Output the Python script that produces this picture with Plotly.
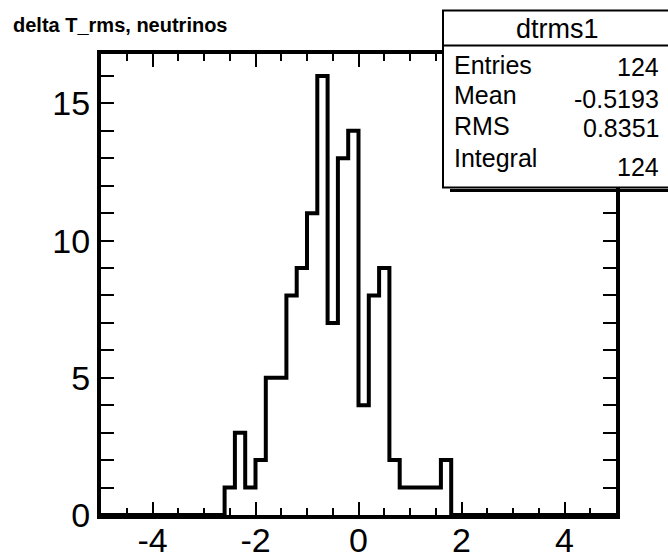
import plotly.graph_objects as go

# ---- histogram definition: 50 bins over [-5, 5] ----
hist_name = "dtrms1"
hist_title = "delta T_rms, neutrinos"
x_low, x_high, n_bins = -5.0, 5.0, 50

# bin contents, bin 0 starts at x = -5
counts = [
    0, 0, 0, 0, 0, 0, 0, 0, 0, 0, 0, 0,
    1, 3, 1, 2, 5, 5, 8, 9, 11, 16, 7, 13, 14,
    4, 8, 9, 2, 1, 1, 1, 1, 2,
    0, 0, 0, 0, 0, 0, 0, 0, 0, 0, 0, 0, 0, 0, 0, 0,
]

# statistics box
stat_labels = ["Entries", "Mean", "RMS", "Integral"]
stat_values = ["124", "-0.5193", "0.8351", "124"]

# axis ticks
x_tick_vals = [-4, -2, 0, 2, 4]
x_tick_text = ["-4", "-2", "0", "2", "4"]
x_major_step, x_minor_step = 2, 0.5
y_major_step, y_minor_step = 5, 1
y_max = 1.05 * max(counts)

bin_width = (x_high - x_low) / n_bins
edges = [x_low + i * bin_width for i in range(n_bins + 1)]
step_y = counts + [counts[-1]]

W, H = 668, 559
L, R, T, B = 101, 52, 54, 44
pw, ph = W - L - R, H - T - B


def px(x):
    return (x - L) / pw


def py(y):
    return (H - B - y) / ph


FONT = "Liberation Sans, Arial, Helvetica, sans-serif"
tick_font = dict(family=FONT, size=34, color="black")

fig = go.Figure()
fig.add_trace(go.Scatter(
    x=edges, y=step_y, mode="lines",
    line=dict(shape="hv", color="black", width=4),
    showlegend=False, hoverinfo="skip", cliponaxis=False,
))
# empty trace so the label axis gets its own subplot layer
fig.add_trace(go.Scatter(x=[], y=[], xaxis="x2", showlegend=False,
                         hoverinfo="skip"))

axis_common = dict(
    showline=True, linecolor="black", linewidth=4, mirror="allticks",
    ticks="inside", ticklen=13, tickwidth=2, tickcolor="black",
    showgrid=False, zeroline=False, automargin=False,
    tickfont=tick_font,
)

# frame axis: major + minor ticks, labels drawn by xaxis2 (plain hyphen minus)
fig.update_layout(xaxis=dict(
    range=[x_low, x_high], tickmode="linear", tick0=0, dtick=x_major_step,
    showticklabels=False,
    minor=dict(tickmode="linear", tick0=0, dtick=x_minor_step, ticks="inside",
               ticklen=7, tickwidth=2, tickcolor="black", showgrid=False),
    **axis_common,
))
fig.update_layout(xaxis2=dict(
    overlaying="x", anchor="y", side="bottom",
    range=[x_low, x_high], tickmode="array",
    tickvals=x_tick_vals, ticktext=x_tick_text,
    ticks="", showline=False, showgrid=False, zeroline=False,
    automargin=False, tickfont=tick_font, ticklabelstandoff=2,
))
fig.update_layout(yaxis=dict(
    range=[0, y_max], tickmode="linear", tick0=0, dtick=y_major_step,
    minor=dict(tickmode="linear", tick0=0, dtick=y_minor_step, ticks="inside",
               ticklen=7, tickwidth=2, tickcolor="black", showgrid=False),
    ticklabelstandoff=0,
    **axis_common,
))

# stats box with shadow
box_l, box_t, box_r, box_b = 443, 10.5, 672, 187.5
shapes = [
    dict(type="line", xref="paper", yref="paper",
         x0=px(box_l + 7), x1=px(box_r + 4), y0=py(box_b + 3), y1=py(box_b + 3),
         line=dict(color="black", width=3), layer="above"),
    dict(type="rect", xref="paper", yref="paper",
         x0=px(box_l), x1=px(box_r), y0=py(box_b), y1=py(box_t),
         fillcolor="white", line=dict(color="black", width=2), layer="above"),
    dict(type="line", xref="paper", yref="paper",
         x0=px(box_l), x1=px(box_r), y0=py(45.5), y1=py(45.5),
         line=dict(color="black", width=2), layer="above"),
]

annotations = [
    dict(text=f"<b>{hist_title}</b>", xref="paper", yref="paper",
         x=px(11), y=py(25), xanchor="left", yanchor="middle", showarrow=False,
         font=dict(family=FONT, size=20, color="black")),
    dict(text=hist_name, xref="paper", yref="paper",
         x=px(557), y=py(29), xanchor="center", yanchor="middle", showarrow=False,
         font=dict(family=FONT, size=27, color="black")),
]
label_y = [65, 95, 126, 158]
value_y = [67, 99, 128, 167]
for lab, val, ly, vy in zip(stat_labels, stat_values, label_y, value_y):
    annotations.append(dict(
        text=lab, xref="paper", yref="paper", x=px(452), y=py(ly),
        xanchor="left", yanchor="middle", showarrow=False,
        font=dict(family=FONT, size=25, color="black")))
    annotations.append(dict(
        text=val, xref="paper", yref="paper", x=px(661), y=py(vy),
        xanchor="right", yanchor="middle", showarrow=False,
        font=dict(family=FONT, size=25, color="black")))

fig.update_layout(
    width=W, height=H,
    margin=dict(l=L, r=R, t=T, b=B, pad=0, autoexpand=False),
    paper_bgcolor="white", plot_bgcolor="white",
    shapes=shapes, annotations=annotations,
    showlegend=False,
)

fig.write_html("out.html")
